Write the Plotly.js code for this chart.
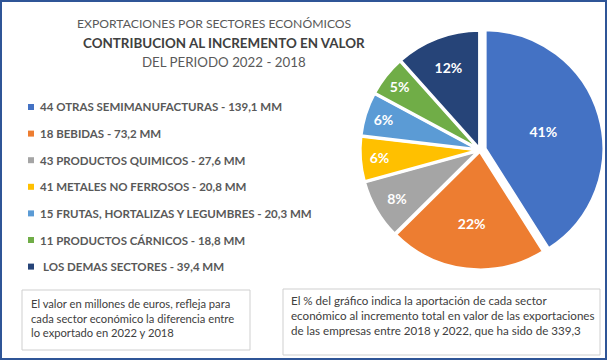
<!DOCTYPE html>
<html>
<head>
<meta charset="utf-8">
<script src="https://cdn.plot.ly/plotly-3.0.1.min.js"></script>
<style>html,body{margin:0;padding:0;background:#fff;}#chart{width:608px;height:362px;}</style>
</head>
<body>
<div id="chart"></div>
<script>
// ---- data ----
var sectors = ['44 OTRAS SEMIMANUFACTURAS', '18 BEBIDAS', '43 PRODUCTOS QUIMICOS', '41 METALES NO FERROSOS', '15 FRUTAS, HORTALIZAS Y LEGUMBRES', '11 PRODUCTOS CÁRNICOS', 'LOS DEMAS SECTORES'];
var valuesMM = [139.1, 73.2, 27.6, 20.8, 20.3, 18.8, 39.4];
var pctLabels = ['41%', '22%', '8%', '6%', '6%', '5%', '12%'];
var sliceColors = ['#4472C4', '#ED7D31', '#A5A5A5', '#FFC000', '#5B9BD5', '#70AD47', '#264478'];
var slicePull = [0.045, 0.01, 0.01, 0.01, 0.01, 0.01, 0.01];
var titleLines = ['EXPORTACIONES POR SECTORES ECONÓMICOS', 'CONTRIBUCION AL INCREMENTO EN VALOR', 'DEL PERIODO 2022 - 2018'];
var noteLeft = ['El valor en millones de euros, refleja para', 'cada sector económico la diferencia entre', 'lo exportado en 2022 y 2018'];
var noteRight = ['El % del gráfico indica la aportación de cada sector', 'económico al incremento total en valor de las exportaciones', 'de las empresas entre 2018 y 2022, que ha sido de 339,3'];

var W = 608, H = 362;
function X(px) { return px / W; }
function Y(py) { return 1 - py / H; }
var FONT = 'Lato, "Open Sans", sans-serif';

var trace = {
  type: 'pie',
  labels: sectors,
  values: valuesMM,
  text: pctLabels,
  textinfo: 'text',
  textposition: 'inside',
  insidetextorientation: 'horizontal',
  sort: false,
  direction: 'clockwise',
  rotation: 0,
  pull: slicePull,
  marker: { colors: sliceColors, line: { color: '#ffffff', width: 3 } },
  textfont: { family: FONT, size: 14, color: '#ffffff', weight: 'bold' },
  hoverinfo: 'label+value+text',
  domain: { x: [X(355), X(605)], y: [Y(274), Y(26)] },
  showlegend: false
};

var annotations = [];
var shapes = [];

// title
var titleY = [23, 43, 62];
var titleX = [214, 224, 224];
var titleSize = [12.2, 13.4, 13.3];
titleLines.forEach(function (t, i) {
  annotations.push({
    xref: 'paper', yref: 'paper', x: X(titleX[i]), y: Y(titleY[i]),
    xanchor: 'center', yanchor: 'middle', showarrow: false,
    text: i === 1 ? '<b>' + t + '</b>' : t,
    font: { family: FONT, size: titleSize[i], color: i === 1 ? '#404040' : '#595959' }
  });
});

// custom legend
sectors.forEach(function (s, i) {
  var cy = 107 + i * 26.6;
  shapes.push({
    type: 'rect', xref: 'paper', yref: 'paper',
    x0: X(28), x1: X(34), y0: Y(cy + 3), y1: Y(cy - 3),
    fillcolor: sliceColors[i], line: { width: 0 }
  });
  annotations.push({
    xref: 'paper', yref: 'paper', x: X(i === 6 ? 41 : 38), y: Y(cy),
    xanchor: 'left', yanchor: 'middle', showarrow: false,
    text: '<b>' + s + ' - ' + valuesMM[i].toFixed(1).replace('.', ',') + ' MM</b>',
    font: { family: FONT, size: 11.5, color: '#595959' }
  });
});

// note boxes
shapes.push({ type: 'rect', xref: 'paper', yref: 'paper', x0: X(22), x1: X(250), y0: Y(350), y1: Y(290),
  line: { color: '#CFCFCF', width: 1 }, fillcolor: 'rgba(0,0,0,0)' });
shapes.push({ type: 'rect', xref: 'paper', yref: 'paper', x0: X(283), x1: X(600), y0: Y(355), y1: Y(289),
  line: { color: '#CFCFCF', width: 1 }, fillcolor: 'rgba(0,0,0,0)' });
annotations.push({
  xref: 'paper', yref: 'paper', x: X(29), y: Y(317.5), xanchor: 'left', yanchor: 'middle', align: 'left',
  showarrow: false, text: noteLeft.join('<br>'), font: { family: FONT, size: 11.2, color: '#404040' }
});
annotations.push({
  xref: 'paper', yref: 'paper', x: X(289), y: Y(315), xanchor: 'left', yanchor: 'middle', align: 'left',
  showarrow: false, text: noteRight.join('<br>'), font: { family: FONT, size: 11.6, color: '#404040' }
});

// outer frame
shapes.push({ type: 'rect', xref: 'paper', yref: 'paper', x0: X(1), x1: X(606), y0: Y(359), y1: Y(1),
  line: { color: '#2F5597', width: 2 }, fillcolor: 'rgba(0,0,0,0)' });

var layout = {
  width: W, height: H,
  margin: { l: 0, r: 0, t: 0, b: 0 },
  paper_bgcolor: '#ffffff', plot_bgcolor: '#ffffff',
  showlegend: false,
  annotations: annotations,
  shapes: shapes
};

Plotly.newPlot('chart', [trace], layout, { displayModeBar: false, staticPlot: true });
</script>
</body>
</html>
